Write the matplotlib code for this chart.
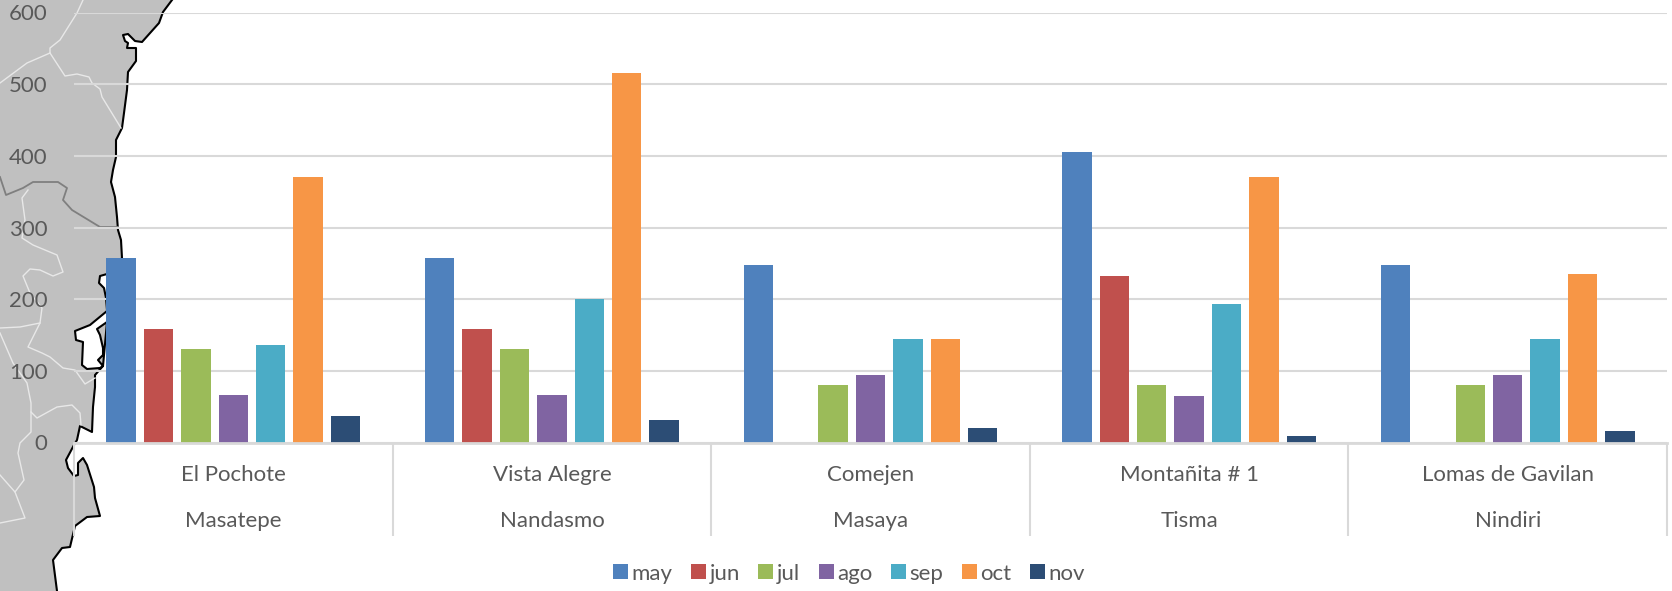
import matplotlib
matplotlib.use("Agg")
import matplotlib.pyplot as plt
import numpy as np
from matplotlib.patches import Polygon

plt.rcParams['font.family'] = ['Lato', 'DejaVu Sans']

sites = ["El Pochote", "Vista Alegre", "Comejen", "Montañita # 1", "Lomas de Gavilan"]
towns = ["Masatepe", "Nandasmo", "Masaya", "Tisma", "Nindiri"]
months = ["may", "jun", "jul", "ago", "sep", "oct", "nov"]
may = [258, 258, 247, 405, 247]
jun = [158, 158, 0, 233, 0]
jul = [130, 130, 80, 80, 80]
ago = [66, 66, 94, 65, 94]
sep = [136, 200, 144, 193, 144]
oct_ = [370, 516, 144, 370, 235]
nov = [37, 32, 20, 9, 16]
series = [may, jun, jul, ago, sep, oct_, nov]
colors = ["#4F81BD", "#C0504D", "#9BBB59", "#8064A2", "#4BACC6", "#F79646", "#2C4D75"]

TEXT = "#595959"
GRID = "#D9D9D9"
W, H = 1672, 591
DPI = 100

# Country outline behind the chart, in pixels from the top-left corner
coast_upper = [(172, 0), (163, 12), (159, 23), (142, 42), (135, 41), (128, 34), (123, 35), (125, 41),
               (128, 43), (127, 48), (136, 48), (136, 61), (128, 72), (127, 90), (124, 113), (122, 128),
               (116, 140), (116, 157), (113, 170), (111, 182), (115, 197), (117, 217), (118, 230),
               (121, 240), (122, 258), (107, 274), (100, 276), (99, 283), (104, 288), (106, 298),
               (107, 310), (107, 311), (90, 325), (75, 331), (76, 340), (83, 342), (82, 365), (87, 369),
               (100, 368), (103, 366), (98, 360), (103, 355), (103, 348), (100, 335), (97, 329), (107, 322),
               (120, 330), (120, 360), (103, 366)]
coast_lower = [(95, 375), (95, 387), (93, 407), (92, 432), (80, 426), (77, 440), (74, 445), (66, 460),
               (68, 468), (74, 476), (78, 475), (78, 463), (83, 458), (87, 465), (94, 487), (95, 498),
               (100, 516), (87, 517), (75, 526), (70, 547), (62, 548), (53, 560), (57, 591)]
coast = coast_upper[:-3] + [(103, 366)] + coast_lower
land = [(0, 0)] + coast + [(0, 591)]

white_borders = [
    [(83, 0), (77, 13), (60, 40), (50, 48), (50, 53), (27, 63), (0, 83)],
    [(50, 53), (65, 76), (77, 74), (89, 77), (92, 83), (100, 89), (102, 97), (121, 128)],
    [(28, 190), (22, 198), (25, 220), (22, 238), (33, 245), (57, 255), (63, 272), (53, 276), (40, 270),
     (30, 269), (23, 276), (30, 293), (42, 308), (40, 323), (28, 347), (42, 353), (50, 357), (63, 368),
     (75, 370), (85, 384), (95, 378)],
    [(40, 323), (20, 327), (0, 328)],
    [(0, 333), (13, 363), (27, 383), (31, 403), (31, 432), (20, 443), (18, 453), (24, 480), (15, 492), (0, 475)],
    [(15, 492), (25, 518), (0, 523)],
    [(31, 412), (37, 418), (57, 407), (72, 405), (80, 413), (81, 425)],
]
gray_border = [(0, 177), (6, 195), (23, 188), (33, 182), (58, 182), (67, 188), (63, 200), (72, 210),
               (100, 227), (118, 227)]

fig = plt.figure(figsize=(W / DPI, H / DPI), dpi=DPI, facecolor="white")

map_ax = fig.add_axes([0, 0, 1, 1], zorder=0)
map_ax.set_xlim(0, W)
map_ax.set_ylim(H, 0)
map_ax.axis("off")
map_ax.add_patch(Polygon(land, closed=True, facecolor="#C0C0C0", edgecolor="none"))
map_ax.plot(*zip(*coast), color="black", lw=1.5, solid_joinstyle="round")
for border in white_borders:
    map_ax.plot(*zip(*border), color="#E8E8E8", lw=1.0)
map_ax.plot(*zip(*gray_border), color="#7F7F7F", lw=1.3)

# Plot area: left 74, right 1667, top 12.5, baseline 442.5 (pixels)
ax = fig.add_axes([74 / W, (H - 442.5) / H, (1667 - 74) / W, (442.5 - 12.5) / H], zorder=1)
ax.patch.set_alpha(0)

n_groups = len(sites)
group_pos = np.arange(n_groups)
pitch = 0.1174
bar_w = 0.0926
for i, (name, vals, col) in enumerate(zip(months, series, colors)):
    ax.bar(group_pos + (i - 3) * pitch, vals, width=bar_w, color=col, label=name, zorder=3)

ax.set_xlim(-0.5, n_groups - 0.5)
ax.set_ylim(0, 600)
ax.set_yticks(np.arange(0, 601, 100))
ax.yaxis.grid(True, color=GRID, lw=1.5, zorder=1)
ax.set_axisbelow(True)
ax.tick_params(axis="y", length=0, pad=19, labelcolor=TEXT, labelsize=16)
for label in ax.get_yticklabels():
    label.set_verticalalignment("center_baseline")

for side in ("top", "right", "left"):
    ax.spines[side].set_visible(False)
ax.spines["bottom"].set_color(GRID)
ax.spines["bottom"].set_linewidth(2)
ax.spines["bottom"].set_zorder(4)

# Two-level category axis: site name above its municipality, with long separators
ax.set_xticks(group_pos)
ax.set_xticklabels(sites, color=TEXT, fontsize=16)
ax.tick_params(axis="x", which="major", length=0, pad=16.5)
ax.set_xticks(np.arange(-0.5, n_groups), minor=True)
ax.tick_params(axis="x", which="minor", length=67, width=1.5, color=GRID)
for x, town in zip(group_pos, towns):
    ax.annotate(town, xy=(x, 0), xycoords=("data", "axes fraction"), xytext=(0, -56.5),
                textcoords="offset points", ha="center", va="center", color=TEXT, fontsize=16)

ax.legend(loc="center", bbox_to_anchor=((849 - 74) / (1667 - 74), -(573.5 - 442.5) / (442.5 - 12.5)),
          ncol=7, frameon=False, fontsize=16, labelcolor=TEXT, handlelength=0.68, handleheight=0.68,
          handletextpad=0.16, columnspacing=0.83, borderpad=0, borderaxespad=0)

fig.savefig("out.png", dpi=DPI)
